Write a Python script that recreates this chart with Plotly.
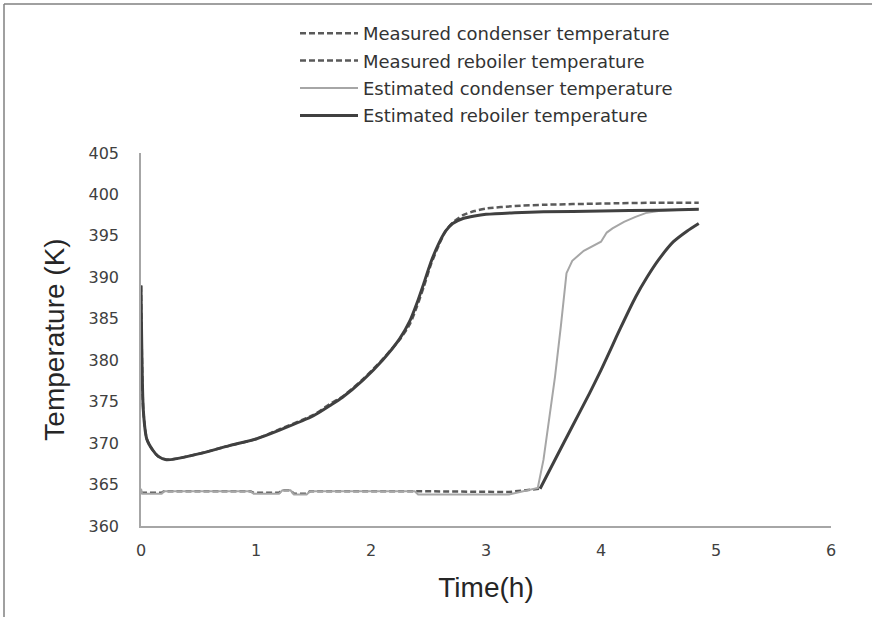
import numpy as np
import plotly.graph_objects as go

# ---- data ----
t_reb = [0, 0.02, 0.05, 0.1, 0.15, 0.22, 0.3, 0.5, 0.77, 1.0, 1.21, 1.5, 1.64, 1.75, 1.93, 2.1, 2.25, 2.34, 2.4, 2.46, 2.52, 2.59, 2.65, 2.71, 2.8, 2.9, 3.0, 3.25, 3.5, 4.0, 4.5, 4.85]
est_reb = [389.0, 374.0, 370.5, 369.2, 368.4, 368.0, 368.1, 368.7, 369.7, 370.5, 371.6, 373.3, 374.5, 375.5, 377.6, 380.0, 382.6, 384.8, 386.9, 389.3, 391.8, 394.1, 395.6, 396.5, 397.1, 397.4, 397.6, 397.8, 397.9, 398.0, 398.1, 398.2]
meas_reb = [389.0, 374.0, 370.5, 369.2, 368.4, 368.0, 368.1, 368.7, 369.7, 370.5, 371.7, 373.4, 374.7, 375.6, 377.7, 380.1, 382.5, 384.4, 386.5, 388.9, 391.5, 393.9, 395.6, 396.6, 397.5, 398.0, 398.3, 398.6, 398.75, 398.9, 399.0, 399.0]

t_ec = [0, 0.01, 0.18, 0.2, 0.95, 0.98, 1.2, 1.23, 1.3, 1.33, 1.44, 1.47, 2.38, 2.41, 3.2, 3.45, 3.5, 3.55, 3.6, 3.65, 3.7, 3.75, 3.85, 4.0, 4.05, 4.1, 4.2, 4.3, 4.4, 4.5, 4.6, 4.85]
est_cond = [364.5, 363.9, 363.9, 364.2, 364.2, 363.9, 363.9, 364.3, 364.3, 363.8, 363.8, 364.2, 364.2, 363.8, 363.8, 364.6, 368.0, 373.0, 378.0, 384.0, 390.5, 392.0, 393.2, 394.3, 395.4, 395.9, 396.7, 397.3, 397.8, 398.0, 398.1, 398.2]

t_mc = [0, 0.18, 0.2, 0.95, 0.98, 1.2, 1.23, 1.3, 1.33, 1.44, 1.47, 2.4, 3.2, 3.47, 3.6, 3.75, 3.9, 4.0, 4.1, 4.17, 4.3, 4.4, 4.5, 4.63, 4.75, 4.85]
meas_cond = [364.0, 364.0, 364.2, 364.2, 364.0, 364.0, 364.3, 364.3, 363.9, 363.9, 364.2, 364.2, 364.1, 364.5, 368.0, 372.0, 376.0, 378.8, 381.8, 383.9, 387.6, 390.0, 392.1, 394.3, 395.6, 396.5]

names = ["Measured condenser temperature", "Measured reboiler temperature",
         "Estimated condenser temperature", "Estimated reboiler temperature"]

x_ticks = [0, 1, 2, 3, 4, 5, 6]
y_ticks = [360, 365, 370, 375, 380, 385, 390, 395, 400, 405]

DASH = "#5a5a5a"
LIGHT = "#a6a6a6"
DARK = "#404040"

tmc = np.array(t_mc)
mc = np.array(meas_cond)
flat = tmc <= 3.47
rise = tmc >= 3.47

fig = go.Figure()
fig.add_trace(go.Scatter(x=tmc[flat], y=mc[flat], mode="lines", name=names[0],
                         line=dict(color=DASH, width=2.5, dash="6px,3px"), legendgroup="a"))
fig.add_trace(go.Scatter(x=t_reb, y=meas_reb, mode="lines", name=names[1],
                         line=dict(color=DASH, width=2.5, dash="6px,3px", shape="spline", smoothing=0.6),
                         legendgroup="b"))
fig.add_trace(go.Scatter(x=t_ec, y=est_cond, mode="lines", name=names[2],
                         line=dict(color=LIGHT, width=2), legendgroup="c"))
fig.add_trace(go.Scatter(x=t_reb, y=est_reb, mode="lines", name=names[3],
                         line=dict(color=DARK, width=3, shape="spline", smoothing=0.6), legendgroup="d"))
fig.add_trace(go.Scatter(x=tmc[rise], y=mc[rise], mode="lines", showlegend=False,
                         line=dict(color=DARK, width=3, shape="spline", smoothing=0.6)))

L, R, T, B = 141, 45, 153, 91
W, H = 876, 617
pw, ph = W - L - R, H - T - B

def px2x(px):
    return (px - L) / pw

def py2y(py):
    return (H - B - py) / ph

fig.update_layout(
    width=W, height=H,
    margin=dict(l=L, r=R, t=T, b=B),
    paper_bgcolor="white", plot_bgcolor="white",
    font=dict(family="DejaVu Sans, sans-serif", color="#404040"),
    showlegend=True,
    legend=dict(x=px2x(295), y=py2y(15), xanchor="left", yanchor="top",
                font=dict(family="DejaVu Sans", size=18, color="#333333"),
                itemwidth=58, tracegroupgap=1, bgcolor="rgba(0,0,0,0)"),
    xaxis=dict(range=[0, 6], tickvals=x_ticks, showgrid=False, zeroline=False,
               showline=True, linecolor="#a6a6a6", linewidth=1.5, ticks="",
               tickfont=dict(size=16, color="#404040"), ticklabelstandoff=9,
               title=dict(text="Time(h)", font=dict(family="Liberation Sans, Arial", size=28, color="#262626"),
                          standoff=18)),
    yaxis=dict(range=[360, 405], tickvals=y_ticks, showgrid=False, zeroline=False,
               showline=True, linecolor="#a6a6a6", linewidth=1.5, ticks="",
               tickfont=dict(size=16, color="#404040"), ticklabelstandoff=17,
               title=dict(text="Temperature (K)", font=dict(family="Liberation Sans, Arial", size=28, color="#262626"),
                          standoff=16)),
    shapes=[
        dict(type="line", xref="paper", yref="paper", x0=px2x(4), x1=px2x(872), y0=py2y(4), y1=py2y(4),
             line=dict(color="#808080", width=1.5)),
        dict(type="line", xref="paper", yref="paper", x0=px2x(4), x1=px2x(4), y0=py2y(4), y1=py2y(617),
             line=dict(color="#808080", width=1.5)),
    ],
)

fig.write_html("out.html")
